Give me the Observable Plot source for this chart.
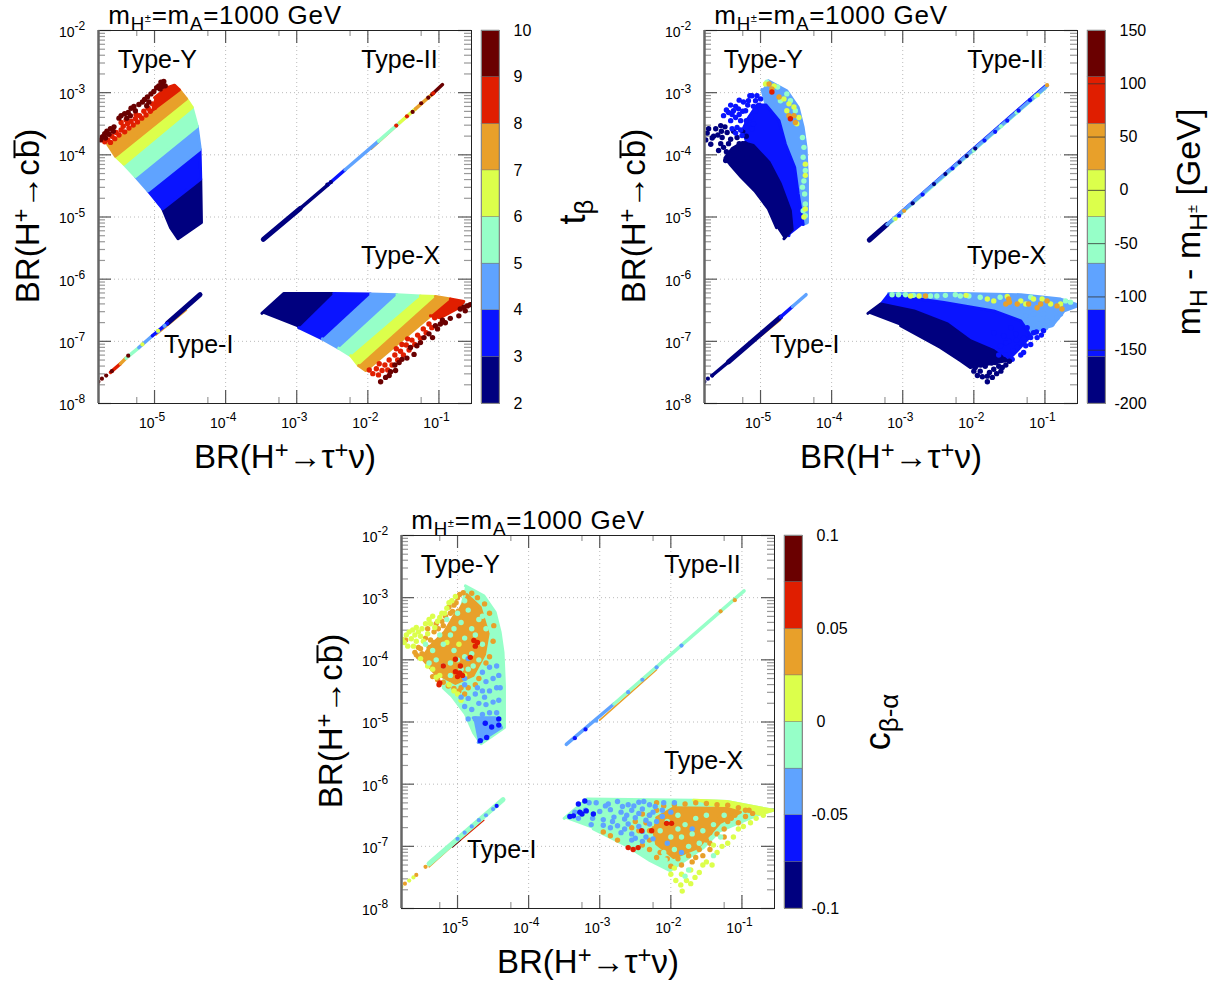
<!DOCTYPE html>
<html><head><meta charset="utf-8">
<script src="https://cdn.jsdelivr.net/npm/d3@7"></script>
<script src="https://cdn.jsdelivr.net/npm/@observablehq/plot@0.6"></script>
<style>
html,body{margin:0;background:#fff}
#chart{position:relative;width:1221px;height:982px;overflow:hidden;font-family:"Liberation Sans",Arial,sans-serif;color:#000}
#chart>svg{position:absolute}
.lab{position:absolute;white-space:nowrap;line-height:1;transform:translate(-50%,-50%)}
.rot{transform:translate(-50%,-50%) rotate(-90deg)}
.s{font-size:.72em;position:relative;top:.3em}
.ss{font-size:.6em;position:relative;top:-.7em}
.u{font-size:.72em;position:relative;top:-.42em}
.o{display:inline-block;line-height:.74;border-top:2px solid #000;margin-left:1px}
</style></head><body><div id="chart"></div>
<script>
const levelColors=["#00007f","#0a14ff","#5fa3ff","#96ffc8","#dcff4b","#e8a02a","#e01e00","#6a0000"];
const NAVY=0,BLUE=1,LIGHT=2,MINT=3,LIME=4,ORANGE=5,RED=6,MAROON=7;
const exponentsX=[-5,-4,-3,-2,-1], exponentsY=[-8,-7,-6,-5,-4,-3,-2];
const typeNames=["Type-Y","Type-II","Type-X","Type-I"], typeLogX=[-4.96,-1.554,-1.54,-4.38], typeLogY=[-2.48,-2.48,-5.62,-7.06];

/* ---------- panel 1: t_beta ---------- */
const a1Navy=[[-4.885,-4.87],[-4.775,-5.17],[-4.67,-5.35],[-4.34,-5.09],[-4.35,-4.39]];
const a1Blue=[[-5.09,-4.58],[-4.885,-4.87],[-4.35,-4.39],[-4.36,-3.91]];
const a1Light=[[-5.27,-4.35],[-5.09,-4.58],[-4.36,-3.91],[-4.36,-3.88],[-4.40,-3.54]];
const a1Mint=[[-5.43,-4.15],[-5.27,-4.35],[-4.40,-3.54],[-4.47,-3.24]];
const a1Lime=[[-5.55,-4.02],[-5.43,-4.15],[-4.47,-3.235],[-4.55,-3.10]];
const a1Orange=[[-5.66,-3.83],[-5.55,-4.02],[-4.55,-3.10],[-4.65,-2.955]];
const a1Red=[[-5.05,-3.30],[-4.65,-2.955],[-4.72,-2.88],[-4.82,-2.92],[-5.0,-3.08]];
const b1Red=[[-5.70,-3.79],[-5.66,-3.76],[-5.62,-3.80],[-5.60,-3.70],[-5.56,-3.74],[-5.54,-3.64],[-5.50,-3.68],[-5.47,-3.60],[-5.44,-3.54],[-5.42,-3.63],[-5.38,-3.50],[-5.36,-3.57],[-5.33,-3.46],[-5.30,-3.52],[-5.27,-3.42],[-5.24,-3.47],[-5.21,-3.37],[-5.18,-3.41],[-5.15,-3.30],[-5.12,-3.36],[-5.09,-3.25],[-5.06,-3.30],[-5.03,-3.18],[-5.00,-3.24],[-4.97,-3.13],[-5.47,-3.48],[-5.40,-3.44],[-5.26,-3.35]];
const b1Maroon=[[-5.76,-3.76],[-5.73,-3.71],[-5.70,-3.66],[-5.67,-3.62],[-5.62,-3.58],[-5.57,-3.55],[-5.64,-3.67],[-5.69,-3.73],[-5.58,-3.62],[-5.50,-3.41],[-5.47,-3.37],[-5.42,-3.34],[-5.37,-3.32],[-5.33,-3.25],[-5.29,-3.22],[-5.39,-3.41],[-5.34,-3.37],[-5.27,-3.29],[-5.22,-3.19],[-5.17,-3.15],[-5.14,-3.11],[-5.10,-3.07],[-5.05,-3.02],[-5.01,-2.98],[-4.97,-2.92],[-4.94,-2.89],[-4.91,-2.83],[-4.87,-2.82],[-4.85,-2.89],[-4.89,-2.90],[-4.92,-2.94],[-5.08,-3.15],[-5.11,-3.21]];
const c1Navy=[[-3.49,-6.55],[-3.18,-6.23],[-2.48,-6.23],[-2.97,-6.78]];
const c1Blue=[[-2.48,-6.23],[-1.96,-6.24],[-2.64,-6.96],[-2.97,-6.78]];
const c1Light=[[-1.96,-6.24],[-1.59,-6.25],[-2.41,-7.11],[-2.64,-6.96]];
const c1Mint=[[-1.59,-6.25],[-1.26,-6.27],[-2.24,-7.23],[-2.41,-7.11]];
const c1Lime=[[-1.26,-6.27],[-1.05,-6.28],[-2.13,-7.39],[-2.24,-7.23]];
const c1Orange=[[-1.05,-6.28],[-.84,-6.32],[-2.03,-7.47],[-2.13,-7.39]];
const c1RedArea=[[-.84,-6.32],[-.65,-6.36],[-.72,-6.46],[-.98,-6.62],[-1.12,-6.59]];
const d1Red=[[-1.98,-7.46],[-1.93,-7.52],[-1.88,-7.44],[-1.85,-7.54],[-1.80,-7.47],[-1.76,-7.38],[-1.72,-7.46],[-1.84,-7.36],[-1.70,-7.30],[-1.66,-7.38],[-1.62,-7.22],[-1.58,-7.30],[-1.54,-7.16],[-1.50,-7.22],[-1.46,-7.06],[-1.42,-7.14],[-1.38,-6.98],[-1.34,-7.05],[-1.30,-6.90],[-1.26,-6.95],[-1.22,-6.80],[-1.18,-6.86],[-1.14,-6.72],[-1.10,-6.78],[-1.06,-6.62],[-1.52,-7.05],[-1.44,-6.96],[-1.60,-7.12]];
const d1Maroon=[[-1.82,-7.65],[-1.75,-7.58],[-1.70,-7.55],[-1.68,-7.49],[-1.61,-7.47],[-1.62,-7.38],[-1.56,-7.34],[-1.52,-7.29],[-1.45,-7.27],[-1.35,-7.21],[-1.40,-7.10],[-1.31,-7.07],[-1.26,-7.02],[-1.21,-6.94],[-1.09,-6.94],[-1.14,-6.88],[-1.02,-6.80],[-.98,-6.72],[-.91,-6.70],[-.84,-6.63],[-.72,-6.59],[-.70,-6.48],[-.65,-6.45],[-.60,-6.43],[-.56,-6.41],[-.52,-6.41],[-.63,-6.51],[-1.05,-6.75],[-.95,-6.66]];
const e1Thick=[[-3.47,-5.36,-2.95,-4.86,NAVY],[-4.82,-6.71,-4.36,-6.25,NAVY]];
const e1Mid=[[-2.95,-4.86,-2.55,-4.47,NAVY],[-2.55,-4.47,-2.32,-4.24,BLUE],[-2.32,-4.24,-1.85,-3.78,LIGHT],[-1.85,-3.78,-1.55,-3.48,MINT],[-1.55,-3.48,-1.33,-3.26,LIME],[-1.33,-3.26,-1.10,-3.03,ORANGE],[-1.10,-3.03,-.95,-2.87,MAROON],
 [-5.62,-7.50,-5.48,-7.36,RED],[-5.48,-7.36,-5.40,-7.27,ORANGE],[-5.40,-7.27,-5.22,-7.10,MINT],[-5.22,-7.10,-5.03,-6.91,LIGHT],[-5.03,-6.91,-4.82,-6.71,BLUE]];
const e1Thin=[[-4.98,-6.90,-4.55,-6.50,ORANGE],[-1.95,-3.91,-1.45,-3.39,ORANGE]];
const f1Maroon=[[-5.79,-7.65],[-5.74,-7.60],[-5.68,-7.55],[-5.60,-7.48],[-5.37,-7.23],[-1.25,-3.17],[-1.15,-3.08],[-1.37,-3.31]];
const f1Red=[[-1.6,-3.53],[-1.45,-3.38],[-1.08,-3.01]];
const f1Lime=[[-5.17,-7.05],[-4.95,-6.83]];
const f1Light=[[-4.95,-6.84],[-4.86,-6.75]];
const f1Navy=[[-2.57,-4.48],[-2.52,-4.44]];

/* ---------- panel 2: m_H - m_H± ---------- */
const a2Light=[[-4.89,-2.81],[-4.63,-2.97],[-4.47,-3.235],[-4.40,-3.56],[-4.36,-3.88],[-4.34,-4.415],[-4.34,-5.09],[-4.40,-5.12],[-4.47,-4.63],[-4.52,-4.2],[-4.65,-3.83],[-4.74,-3.45],[-4.92,-3.2],[-4.98,-2.95]];
const a2Blue=[[-4.40,-5.12],[-4.47,-4.63],[-4.52,-4.2],[-4.65,-3.83],[-4.74,-3.45],[-4.92,-3.2],[-5.05,-3.2],[-5.18,-3.42],[-5.25,-3.6],[-5.2,-3.78],[-5.1,-3.85],[-4.88,-4.12],[-4.72,-4.47],[-4.58,-4.9],[-4.6,-5.3]];
const a2Navy=[[-4.67,-5.35],[-4.555,-5.20],[-4.58,-4.90],[-4.72,-4.47],[-4.88,-4.12],[-5.10,-3.85],[-5.25,-3.8],[-5.4,-3.9],[-5.5,-4.05],[-5.43,-4.15],[-5.27,-4.36],[-5.08,-4.58],[-4.89,-4.87],[-4.775,-5.17]];
const b2Navy=[[-5.77,-3.76],[-5.73,-3.58],[-5.63,-3.58],[-5.70,-3.83],[-5.56,-3.53],[-5.54,-3.72],[-5.47,-3.64],[-5.42,-3.75],[-5.33,-3.72],[-5.52,-3.88],[-5.45,-3.99],[-5.59,-3.93],[-5.38,-3.93],[-5.28,-3.91],[-5.49,-4.09],[-5.35,-4.09],[-5.28,-4.15],[-5.19,-4.04],[-5.22,-3.82],[-5.66,-3.70],[-5.75,-3.65],[-5.6,-3.68],[-5.5,-3.55],[-5.45,-3.82],[-5.38,-3.62],[-5.3,-3.82],[-5.25,-3.62],[-5.2,-3.7],[-5.56,-3.82],[-5.48,-3.95],[-5.42,-4.08],[-5.68,-3.73],[-5.55,-3.62]];
const b2Blue=[[-5.52,-3.37],[-5.45,-3.32],[-5.38,-3.29],[-5.31,-3.26],[-5.35,-3.40],[-5.42,-3.45],[-5.24,-3.15],[-5.17,-3.13],[-5.12,-3.05],[-5.21,-3.29],[-5.28,-3.45],[-5.14,-3.40],[-5.07,-3.29],[-5.21,-3.56],[-5.33,-3.56],[-5.07,-3.13],[-5.26,-3.69],[-5.40,-3.58],[-5.12,-3.58],[-5.02,-3.2],[-5.48,-3.28],[-5.42,-3.2],[-5.35,-3.22],[-5.3,-3.12],[-5.25,-3.3],[-5.18,-3.2],[-5.15,-3.05],[-5.1,-3.22],[-5.05,-3.05],[-5.0,-3.1],[-5.4,-3.35],[-5.3,-3.35],[-5.2,-3.45],[-5.1,-3.5],[-5.28,-3.6],[-5.35,-3.65]];
const b2Mint=[[-4.91,-2.83],[-4.76,-2.91],[-4.63,-3.02],[-4.72,-3.13],[-4.51,-3.29],[-4.58,-3.13],[-4.41,-3.72],[-4.39,-3.88],[-4.40,-4.04],[-4.37,-4.25],[-4.39,-4.42],[-4.41,-4.52],[-4.38,-4.63],[-4.37,-4.79],[-4.40,-4.90],[-4.37,-4.98]];
const b2Lime=[[-4.93,-2.86],[-4.81,-2.89],[-4.67,-3.10],[-4.60,-3.18],[-4.53,-3.23],[-4.63,-3.29],[-4.46,-3.40],[-4.49,-3.50],[-4.37,-4.15],[-4.37,-4.33],[-4.37,-4.87],[-4.39,-5.0]];
const b2Orange=[[-4.88,-2.86],[-4.84,-2.94],[-4.60,-3.37],[-4.53,-3.37],[-4.51,-3.48],[-4.74,-3.07]];
const b2Red=[[-4.84,-2.99],[-4.58,-3.42]];
const c2Light=[[-3.2,-6.23],[-2.19,-6.23],[-1.34,-6.25],[-.78,-6.32],[-.52,-6.42],[-.73,-6.51],[-.9,-6.75],[-1.06,-6.80],[-1.2,-6.91],[-1.34,-6.67],[-1.72,-6.51],[-2.42,-6.375],[-3.17,-6.295]];
const c2Blue=[[-3.31,-6.41],[-3.2,-6.25],[-2.42,-6.375],[-1.72,-6.51],[-1.34,-6.67],[-1.2,-6.91],[-1.39,-7.15],[-1.53,-7.31],[-1.72,-7.15],[-2.05,-6.99],[-2.37,-6.72],[-2.84,-6.51]];
const c2Navy=[[-3.49,-6.55],[-3.31,-6.40],[-2.84,-6.51],[-2.37,-6.72],[-2.05,-6.99],[-1.72,-7.15],[-1.53,-7.31],[-2.05,-7.42],[-2.19,-7.31],[-2.47,-7.10],[-3.03,-6.75]];
const d2Mint=[[-3.15,-6.25],[-3.06,-6.25],[-2.96,-6.25],[-2.61,-6.27],[-2.52,-6.27],[-2.26,-6.25],[-2.19,-6.27],[-2.07,-6.27],[-1.91,-6.29],[-1.63,-6.29],[-1.20,-6.29],[-.71,-6.35],[-.64,-6.37],[-2.4,-6.26],[-2.85,-6.26]];
const d2Lime=[[-2.89,-6.27],[-2.77,-6.27],[-1.81,-6.32],[-1.72,-6.35],[-1.53,-6.28],[-1.34,-6.35],[-1.16,-6.32],[-1.04,-6.32],[-1.27,-6.40],[-.92,-6.40],[-.78,-6.40],[-2.11,-6.26]];
const d2Orange=[[-2.68,-6.27],[-1.55,-6.40],[-1.51,-6.32],[-1.39,-6.40],[-1.23,-6.40],[-1.06,-6.40],[-.83,-6.43],[-.76,-6.48],[-1.11,-6.46],[-.97,-6.35],[-1.5,-6.37]];
const d2Light=[[-1.16,-6.56],[-1.02,-6.56],[-.83,-6.62],[-.97,-6.67],[-1.09,-6.72],[-.90,-6.72],[-.99,-6.78],[-.78,-6.56],[-1.27,-6.59],[-.50,-6.40]];
const d2Blue=[[-1.625,-7.07],[-1.51,-6.99],[-1.39,-7.10],[-1.27,-7.07],[-1.34,-7.22],[-1.20,-6.94],[-1.11,-6.94],[-1.02,-6.83],[-1.25,-6.78],[-1.16,-6.86],[-1.41,-6.88],[-1.48,-6.78],[-1.58,-6.91],[-1.46,-7.29],[-1.72,-6.86],[-1.45,-7.15],[-1.55,-7.02],[-1.3,-6.95],[-1.2,-7.05],[-1.12,-6.85],[-1.05,-6.9],[-1.65,-7.22],[-1.4,-6.98],[-1.3,-7.18],[-1.55,-7.22]];
const d2Navy=[[-1.98,-7.42],[-1.91,-7.48],[-1.81,-7.65],[-1.88,-7.57],[-1.81,-7.56],[-1.74,-7.58],[-1.72,-7.45],[-1.62,-7.48],[-1.84,-7.40],[-1.95,-7.34],[-1.70,-7.34],[-1.58,-7.29],[-1.79,-7.29],[-2.0,-7.48],[-1.55,-7.38],[-1.65,-7.4],[-1.75,-7.35],[-1.9,-7.38],[-1.78,-7.5],[-1.68,-7.52],[-1.6,-7.42],[-1.5,-7.32],[-1.95,-7.55]];
const e2Thick=[[-3.47,-5.37,-3.22,-5.12,NAVY],[-5.45,-7.33,-4.72,-6.61,NAVY]];
const e2Mid=[[-3.22,-5.12,-.97,-2.89,LIGHT],[-5.68,-7.55,-5.45,-7.33,NAVY],[-4.72,-6.61,-4.55,-6.44,BLUE],[-4.55,-6.44,-4.36,-6.25,LIGHT]];
const e2Thin=[[-3.2,-5.14,-.98,-2.93,MINT],[-3.2,-5.08,-1.0,-2.88,BLUE],[-5.0,-6.92,-4.72,-6.66,ORANGE],[-3.3,-5.22,-2.7,-4.62,NAVY]];
const f2Navy=[[-5.79,-7.65],[-5.74,-7.60],[-5.68,-7.55],[-2.86,-4.78],[-2.56,-4.47],[-2.4,-4.31],[-2.2,-4.12],[-2.1,-4.02],[-1.98,-3.90]];
const f2Blue=[[-3.05,-4.98],[-2.72,-4.64],[-2.3,-4.22],[-1.7,-3.63],[-1.53,-3.45],[-1.37,-3.29],[-1.21,-3.12],[-1.85,-3.77]];
const f2Mint=[[-3.12,-5.03],[-2.0,-3.93],[-1.62,-3.54],[-1.13,-3.06],[-1.4,-3.32]];
const f2Lime=[[-3.1,-5.03],[-1.1,-3.04]];
const f2Orange=[[-2.98,-4.9],[-.97,-2.88]];

/* ---------- panel 3: c_beta-alpha ---------- */
const a3Mint=[[-4.89,-2.81],[-4.63,-2.97],[-4.47,-3.235],[-4.40,-3.56],[-4.36,-3.88],[-4.34,-4.415],[-4.34,-5.09],[-4.67,-5.35],[-4.775,-5.17],[-4.89,-4.87],[-5.08,-4.58],[-5.2,-4.45],[-5.15,-3.9],[-5.0,-3.3]];
const a3Orange=[[-4.87,-2.95],[-4.68,-3.155],[-4.57,-3.58],[-4.62,-3.91],[-4.78,-4.25],[-5.03,-4.38],[-5.33,-4.2],[-5.5,-3.97],[-5.38,-3.78],[-5.18,-3.55],[-5.0,-3.2]];
const a3Light=[[-4.71,-5.33],[-4.38,-5.09],[-4.47,-4.93],[-4.78,-4.93]];
const b3Orange=[[-5.55,-3.8],[-5.5,-3.9],[-5.45,-3.65],[-5.33,-3.55],[-5.3,-3.42],[-5.2,-3.45],[-5.1,-3.25],[-5.05,-3.12],[-5.0,-3.0],[-5.73,-3.68],[-5.42,-3.5],[-4.85,-4.45],[-4.9,-4.55],[-4.75,-4.4],[-4.95,-4.45],[-4.7,-4.3],[-5.58,-3.92],[-5.52,-3.82],[-5.47,-3.96],[-5.4,-3.8],[-5.38,-3.68],[-5.33,-3.72],[-5.27,-3.5],[-5.22,-3.38],[-5.17,-3.3],[-5.12,-3.15],[-5.07,-3.22],[-5.02,-3.08],[-4.97,-2.95],[-4.92,-2.92],[-5.6,-3.88],[-5.55,-3.95],[-5.35,-4.27],[-5.28,-4.32],[-5.2,-4.36],[-5.13,-4.42],[-5.05,-4.46],[-4.98,-4.5],[-5.3,-4.22],[-4.6,-4.05],[-4.55,-3.95],[-4.5,-3.7],[-4.49,-3.45],[-4.55,-3.25],[-4.62,-3.1],[-4.72,-3.0],[-4.8,-2.93],[-5.25,-3.75],[-5.15,-3.55]];
const b3Mint=[[-5.3,-4.0],[-5.2,-3.75],[-5.1,-3.6],[-5.05,-3.85],[-4.95,-3.4],[-4.9,-3.65],[-4.85,-3.2],[-4.8,-3.5],[-5.2,-4.1],[-5.1,-4.05],[-5.0,-4.0],[-4.9,-3.95],[-4.8,-3.9],[-4.75,-3.6],[-4.7,-3.35],[-5.35,-3.85],[-5.4,-4.05],[-5.25,-3.6],[-5.0,-3.25],[-4.9,-3.05],[-4.95,-4.15],[-5.1,-4.25],[-4.85,-4.15],[-4.78,-4.1],[-4.65,-3.75],[-4.7,-4.0],[-5.15,-3.35],[-5.05,-3.5],[-4.6,-3.5],[-4.65,-3.3],[-5.45,-3.75]];
const b3Lime=[[-5.75,-3.72],[-5.72,-3.6],[-5.68,-3.55],[-5.65,-3.66],[-5.6,-3.6],[-5.58,-3.7],[-5.7,-3.78],[-5.62,-3.78],[-5.52,-3.62],[-5.5,-3.5],[-5.45,-3.42],[-5.4,-3.35],[-5.35,-3.3],[-5.28,-3.38],[-5.22,-3.25],[-5.15,-3.17],[-5.08,-3.05],[-5.35,-4.15],[-5.25,-4.25],[-5.12,-4.4],[-5.05,-4.5],[-5.15,-3.72],[-4.98,-3.75],[-5.78,-3.67],[-5.55,-3.55],[-5.48,-3.7],[-5.42,-3.58],[-5.38,-3.42],[-5.32,-3.48],[-5.25,-3.32],[-5.18,-3.25],[-5.12,-3.08],[-5.03,-2.98],[-5.58,-3.48],[-5.63,-3.52],[-5.0,-4.55],[-4.95,-4.65],[-4.9,-4.25],[-5.42,-4.1],[-5.52,-3.98],[-5.3,-4.28]];
const b3Light=[[-4.95,-4.6],[-4.85,-4.62],[-4.75,-4.55],[-4.65,-4.5],[-4.55,-4.5],[-4.45,-4.45],[-4.9,-4.75],[-4.8,-4.8],[-4.7,-4.7],[-4.6,-4.72],[-4.5,-4.68],[-4.42,-4.65],[-4.75,-4.95],[-4.65,-4.88],[-4.55,-4.85],[-4.45,-4.85],[-4.85,-4.95],[-4.72,-4.45],[-4.6,-4.35],[-4.5,-4.3],[-4.42,-4.25],[-4.65,-4.2],[-4.55,-4.12],[-4.45,-4.1],[-4.62,-4.6],[-4.4,-4.45],[-4.9,-4.4],[-4.85,-3.98],[-4.9,-4.3]];
const b3Red=[[-4.77,-3.69],[-4.72,-3.72],[-4.75,-3.78],[-5.03,-4.19],[-4.97,-4.21],[-4.93,-4.25],[-5.0,-4.27],[-5.25,-4.37],[-5.26,-4.4],[-5.03,-3.99],[-4.82,-3.96],[-5.2,-4.1],[-4.96,-4.1]];
const b3Blue=[[-4.61,-5.02],[-4.52,-5.08],[-4.42,-4.95],[-4.42,-5.05],[-4.68,-5.3],[-4.59,-5.25]];
const c3Mint=[[-3.50,-6.55],[-3.18,-6.24],[-1.68,-6.26],[-1.21,-6.28],[-.56,-6.42],[-.75,-6.48],[-1.31,-6.75],[-1.54,-7.02],[-2.01,-7.39],[-2.29,-7.23],[-2.62,-6.99],[-3.09,-6.72]];
const c3Lime=[[-1.68,-6.26],[-1.21,-6.28],[-.56,-6.42],[-.75,-6.48],[-1.05,-6.39],[-1.45,-6.33]];
const c3Orange=[[-2.2,-6.54],[-1.96,-6.38],[-1.21,-6.39],[-1.02,-6.45],[-1.31,-6.62],[-1.62,-7.02],[-1.96,-7.18],[-2.2,-6.96],[-2.25,-6.70]];
const d3Light=[[-3.05,-6.3],[-2.88,-6.32],[-2.75,-6.28],[-2.6,-6.33],[-2.45,-6.29],[-2.3,-6.33],[-3.2,-6.42],[-3.0,-6.44],[-2.85,-6.41],[-2.7,-6.45],[-2.55,-6.42],[-2.4,-6.4],[-2.25,-6.45],[-2.12,-6.42],[-3.1,-6.55],[-2.95,-6.57],[-2.8,-6.53],[-2.65,-6.56],[-2.5,-6.54],[-2.35,-6.58],[-2.95,-6.66],[-2.75,-6.67],[-2.6,-6.64],[-2.45,-6.68],[-2.3,-6.64],[-2.7,-6.78],[-2.55,-6.8],[-2.4,-6.76],[-2.55,-6.9],[-2.4,-6.92],[-2.25,-6.88],[-2.1,-6.3],[-1.95,-6.3],[-3.35,-6.45],[-3.3,-6.55],[-3.15,-6.3],[-3.12,-6.65],[-2.92,-6.35],[-2.82,-6.6],[-2.68,-6.36],[-2.52,-6.35],[-2.38,-6.28],[-2.22,-6.36],[-2.62,-6.5],[-2.45,-6.47],[-2.3,-6.5],[-2.85,-6.7],[-2.65,-6.72],[-2.5,-6.87],[-2.35,-6.85],[-2.2,-6.6],[-2.12,-6.52],[-2.0,-6.45],[-1.7,-6.72],[-2.05,-6.95],[-1.85,-7.1]];
const d3Mint=[[-2.05,-6.6],[-1.9,-6.5],[-1.8,-6.65],[-1.65,-6.55],[-1.5,-6.5],[-1.4,-6.65],[-1.25,-6.5],[-2.0,-6.85],[-1.85,-6.85],[-1.7,-6.8],[-1.55,-6.75],[-1.95,-7.05],[-1.75,-7.0],[-2.1,-7.1],[-1.6,-6.95],[-1.8,-7.48],[-1.75,-7.38],[-1.3,-6.85],[-1.4,-7.15],[-2.08,-7.22],[-2.15,-6.75],[-1.9,-6.72]];
const d3Orange=[[-1.15,-6.55],[-1.05,-6.62],[-.95,-6.52],[-1.25,-6.72],[-1.35,-6.8],[-1.45,-6.95],[-1.55,-7.15],[-1.7,-7.25],[-1.85,-7.3],[-2.0,-7.32],[-2.3,-7.05],[-2.4,-6.98],[-2.2,-7.18],[-.85,-6.47],[-2.5,-6.6],[-2.4,-6.48],[-2.3,-6.75],[-2.95,-6.77],[-2.85,-6.83],[-2.75,-6.9],[-2.3,-6.5],[-2.2,-6.42],[-2.1,-6.35],[-1.95,-6.33],[-1.8,-6.32],[-1.65,-6.3],[-1.5,-6.31],[-1.35,-6.33],[-1.2,-6.34],[-1.05,-6.38],[-.95,-6.42],[-.9,-6.42],[-1.1,-6.5],[-1.2,-6.6],[-1.3,-6.55],[-1.25,-6.85],[-1.45,-6.78],[-1.5,-6.9],[-1.6,-7.05],[-1.65,-7.18],[-1.75,-7.15],[-1.9,-7.2],[-2.05,-7.2],[-2.15,-7.1],[-2.3,-6.9],[-2.35,-6.62],[-2.45,-6.75],[-2.2,-6.3],[-2.55,-6.7],[-1.45,-7.05]];
const d3Lime=[[-2.0,-7.45],[-1.93,-7.55],[-1.86,-7.62],[-1.84,-7.72],[-1.78,-7.55],[-1.72,-7.6],[-1.66,-7.5],[-1.6,-7.42],[-1.55,-7.3],[-1.5,-7.25],[-1.42,-7.3],[-1.35,-7.1],[-1.28,-7.0],[-1.2,-6.95],[-1.12,-6.85],[-1.05,-6.72],[-.98,-6.68],[-.88,-6.62],[-.8,-6.55],[-1.4,-6.98],[-1.72,-7.38],[-1.85,-7.45],[-1.95,-7.35],[-.7,-6.5]];
const d3Red=[[-2.6,-7.02],[-2.53,-7.05],[-2.46,-7.02],[-2.41,-6.75],[-2.27,-6.75],[-2.06,-6.63],[-1.99,-6.63]];
const d3Blue=[[-3.42,-6.52],[-3.37,-6.51],[-3.28,-6.45],[-3.21,-6.27],[-3.19,-6.43],[-3.25,-6.48],[-3.3,-6.32],[-3.09,-6.48]];
const e3Thick=[[-5.4,-7.28,-4.36,-6.25,MINT]];
const e3Mid=[[-3.47,-5.36,-2.8,-4.71,LIGHT],[-2.8,-4.71,-.97,-2.89,MINT]];
const e3Thin=[[-3.0,-4.97,-2.2,-4.16,ORANGE],[-1.6,-3.52,-.98,-2.9,ORANGE],[-5.4,-7.33,-5.03,-6.95,ORANGE],[-4.96,-6.9,-4.63,-6.58,RED],[-5.07,-7.01,-4.96,-6.9,MAROON]];
const f3Lime=[[-5.79,-7.65],[-5.68,-7.55],[-5.62,-7.5]];
const f3Orange=[[-5.74,-7.60],[-5.58,-7.46],[-5.45,-7.33],[-1.1,-3.04],[-1.3,-3.22]];
const f3Light=[[-5.0,-6.88],[-4.9,-6.78],[-4.8,-6.68],[-4.7,-6.58],[-4.6,-6.5],[-4.5,-6.4],[-3.05,-4.98],[-2.6,-4.52],[-2.2,-4.12],[-1.85,-3.77],[-2.4,-4.32]];
const f3Blue=[[-4.45,-6.35],[-3.2,-5.12],[-3.35,-5.26]];

const groups=(...g)=>g.flatMap(([pts,level],id)=>pts.map(p=>({lx:p[0],ly:p[1],level,id})));
const panels=[
{ox:0,oy:0,
 areas:groups([a1Navy,NAVY],[a1Blue,BLUE],[a1Light,LIGHT],[a1Mint,MINT],[a1Lime,LIME],[a1Orange,ORANGE],[a1Red,RED],[c1Navy,NAVY],[c1Blue,BLUE],[c1Light,LIGHT],[c1Mint,MINT],[c1Lime,LIME],[c1Orange,ORANGE],[c1RedArea,RED]),
 dots:groups([b1Red,RED],[b1Maroon,MAROON],[d1Red,RED],[d1Maroon,MAROON]),
 thick:e1Thick,mid:e1Mid,thin:e1Thin,
 top:groups([f1Navy,NAVY],[f1Light,LIGHT],[f1Lime,LIME],[f1Red,RED],[f1Maroon,MAROON])},
{ox:606,oy:0,
 areas:groups([a2Light,LIGHT],[a2Blue,BLUE],[a2Navy,NAVY],[c2Light,LIGHT],[c2Blue,BLUE],[c2Navy,NAVY]),
 dots:groups([b2Navy,NAVY],[b2Blue,BLUE],[b2Mint,MINT],[b2Lime,LIME],[b2Orange,ORANGE],[b2Red,RED],[d2Light,LIGHT],[d2Blue,BLUE],[d2Navy,NAVY],[d2Mint,MINT],[d2Lime,LIME],[d2Orange,ORANGE]),
 thick:e2Thick,mid:e2Mid,thin:e2Thin,
 top:groups([f2Mint,MINT],[f2Lime,LIME],[f2Blue,BLUE],[f2Navy,NAVY],[f2Orange,ORANGE])},
{ox:303,oy:505,
 areas:groups([a3Mint,MINT],[a3Orange,ORANGE],[a3Light,LIGHT],[c3Mint,MINT],[c3Lime,LIME],[c3Orange,ORANGE]),
 dots:groups([b3Orange,ORANGE],[b3Lime,LIME],[b3Mint,MINT],[b3Light,LIGHT],[b3Red,RED],[b3Blue,BLUE],[d3Orange,ORANGE],[d3Lime,LIME],[d3Light,LIGHT],[d3Mint,MINT],[d3Red,RED],[d3Blue,BLUE]),
 thick:e3Thick,mid:e3Mid,thin:e3Thin,
 top:groups([f3Light,LIGHT],[f3Lime,LIME],[f3Orange,ORANGE],[f3Blue,BLUE])}
];

const chart=document.getElementById("chart");
const FONT='"Liberation Sans",Arial,sans-serif';
const SIZE=373, ML=60, MR=10, MT=10, MB=30;
const lxMin=-5.788, lxMax=-0.542, lyMin=-8, lyMax=-2;
const E=v=>10**v;
const decX=SIZE/(lxMax-lxMin), decY=SIZE/(lyMax-lyMin);
const linkRows=a=>a.map(r=>({x1:E(r[0]),y1:E(r[1]),x2:E(r[2]),y2:E(r[3]),level:r[4]}));
const minorY=[-8,-7,-6,-5,-4,-3].flatMap(d=>[2,3,4,5,6,7,8,9].map(k=>d+Math.log10(k)));
const minorX=[-5.25,-4.25,-3.25,-2.25,-1.25];

function drawPanel(p){
 const tickX=(v,len)=>[Plot.ruleX(v,{x:d=>E(d),y1:E(lyMin),y2:E(lyMin+len/decY),stroke:len>8?"#555":"#999",strokeWidth:1.2}),Plot.ruleX(v,{x:d=>E(d),y1:E(lyMax),y2:E(lyMax-len/decY),stroke:len>8?"#555":"#999",strokeWidth:1.2})];
 const tickY=(v,len)=>[Plot.ruleY(v,{y:d=>E(d),x1:E(lxMin),x2:E(lxMin+len/decX),stroke:len>8?"#555":"#999",strokeWidth:1.2}),Plot.ruleY(v,{y:d=>E(d),x1:E(lxMax),x2:E(lxMax-len/decX),stroke:len>8?"#555":"#999",strokeWidth:1.2})];
 const link=(rows,w)=>Plot.link(linkRows(rows),{x1:"x1",y1:"y1",x2:"x2",y2:"y2",stroke:"level",strokeWidth:w,strokeLinecap:"round",clip:true});
 const dot=(rows,r)=>Plot.dot(rows,{x:d=>E(d.lx),y:d=>E(d.ly),fill:"level",r,clip:true});
 const svg=Plot.plot({
  width:SIZE+ML+MR,height:SIZE+MT+MB,marginLeft:ML,marginRight:MR,marginTop:MT,marginBottom:MB,
  style:{fontFamily:FONT,background:"transparent",overflow:"visible"},
  x:{type:"log",domain:[E(lxMin),E(lxMax)],axis:null},
  y:{type:"log",domain:[E(lyMin),E(lyMax)],axis:null},
  color:{type:"ordinal",domain:d3.range(8),range:levelColors},
  marks:[
   Plot.ruleX(exponentsX,{x:d=>E(d),stroke:"#bbb",strokeDasharray:"1,3"}),
   Plot.ruleY(exponentsY.slice(1,-1),{y:d=>E(d),stroke:"#bbb",strokeDasharray:"1,3"}),
   ...tickX(minorX,6),...tickX(exponentsX,13),...tickY(minorY,7),...tickY(exponentsY,13),
   Plot.line(p.areas,{x:d=>E(d.lx),y:d=>E(d.ly),z:"id",fill:"level",stroke:"level",strokeWidth:3,strokeLinejoin:"round",clip:true}),
   dot(p.dots,2.7),
   link(p.thin,1.5),link(p.thick,5),link(p.mid,3.5),
   dot(p.top,2.1),
   Plot.frame({stroke:"#222",strokeWidth:1}),
   Plot.ruleX([E(lxMin)],{stroke:"#666",strokeWidth:2.5}),
   Plot.text(exponentsX,{x:d=>E(d),y:E(lyMin),text:()=>"10",textAnchor:"end",dx:0,dy:20,fontSize:14,fill:"#000"}),
   Plot.text(exponentsX,{x:d=>E(d),y:E(lyMin),text:d=>String(d),textAnchor:"start",dx:0,dy:14,fontSize:12,fill:"#000"}),
   Plot.text(exponentsY,{x:E(lxMin),y:d=>E(d),text:()=>"10",textAnchor:"end",dx:-24,dy:2,fontSize:14,fill:"#000"}),
   Plot.text(exponentsY,{x:E(lxMin),y:d=>E(d),text:d=>String(d),textAnchor:"start",dx:-24,dy:-4,fontSize:12,fill:"#000"}),
   Plot.text(typeNames,{x:(d,i)=>E(typeLogX[i]),y:(d,i)=>E(typeLogY[i]),text:d=>d,fontSize:25,fill:"#000"})
  ]});
 svg.style.left=(98+p.ox-ML)+"px"; svg.style.top=(30+p.oy-MT)+"px";
 chart.appendChild(svg);
}
panels.forEach(drawPanel);

const bar1Ticks=[2,3,4,5,6,7,8,9,10], bar2Ticks=[-200,-150,-100,-50,0,50,100,150], bar3Ticks=[-0.1,-0.05,0,0.05,0.1];
function drawBar(left,top,ticks,showTicks){
 const lo=ticks[0],hi=ticks[ticks.length-1],st=(hi-lo)/8;
 const rows=d3.range(8).map(i=>({y1:lo+i*st,y2:lo+(i+1)*st,level:i}));
 const svg=Plot.plot({
  width:80,height:SIZE+20,marginLeft:1,marginRight:61,marginTop:10,marginBottom:10,
  style:{fontFamily:FONT,background:"transparent",overflow:"visible"},
  x:{domain:[0,1],axis:null},y:{domain:[lo,hi],axis:null},
  color:{type:"ordinal",domain:d3.range(8),range:levelColors},
  marks:[
   Plot.rect(rows,{x1:0,x2:1,y1:"y1",y2:"y2",fill:"level",stroke:"#666",strokeWidth:.4}),
   showTicks?Plot.ruleY(ticks.slice(1,-1),{stroke:"#333",strokeWidth:.8}):null,
   Plot.frame({stroke:"#888",strokeWidth:1}),
   Plot.text(ticks.filter(t=>t>=0),{x:1,y:d=>d,text:d=>String(d),textAnchor:"start",dx:14,fontSize:16,fill:"#000"}),
   Plot.text(ticks.filter(t=>t<0),{x:1,y:d=>d,text:d=>String(d),textAnchor:"start",dx:9,fontSize:16,fill:"#000"})
  ]});
 svg.style.left=(left-1)+"px"; svg.style.top=(top-10)+"px";
 chart.appendChild(svg);
}
drawBar(481,30,bar1Ticks,false);
drawBar(1087,30,bar2Ticks,true);
drawBar(784,535,bar3Ticks,false);

const titleHtml='<span style="letter-spacing:.7px">m<span class="s">H<span class="ss">±</span></span>=m<span class="s">A</span>=1000 GeV</span>';
const yHtml='BR(H<span class="u">+</span>→c<span class="o">b</span>)';
const xHtml='BR(H<span class="u">+</span>→τ<span class="u">+</span>ν)';
function label(html,x,y,size,rot){const d=document.createElement("div");d.className="lab"+(rot?" rot":"");d.style.left=x+"px";d.style.top=y+"px";d.style.fontSize=size+"px";d.innerHTML=html;chart.appendChild(d);}
for(const p of panels){
 label(titleHtml,225+p.ox,15+p.oy,26);
 label(yHtml,27+p.ox,216+p.oy,33,true);
 label(xHtml,285+p.ox,456+p.oy,33);
}
label('t<span class="s">β</span>',573,212,36,true);
label('m<span class="s">H</span> - m<span class="s">H<span class="ss">±</span></span> [GeV]',1188,222,34,true);
label('c<span class="s">β-α</span>',878,722,36,true);
</script></body></html>
